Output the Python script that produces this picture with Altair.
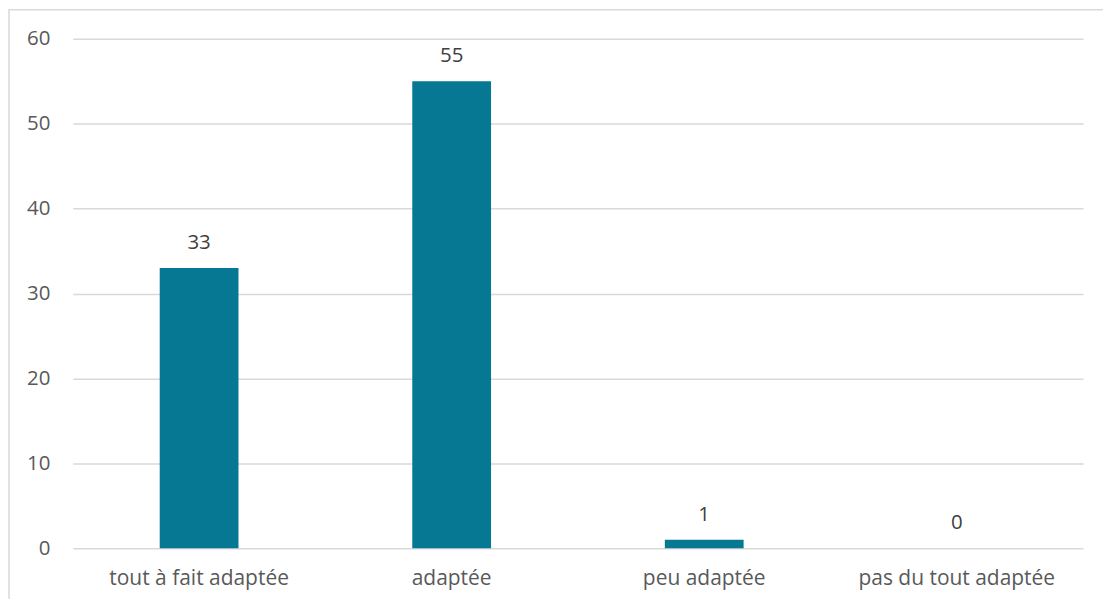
import altair as alt
import pandas as pd

categories = ["tout à fait adaptée", "adaptée", "peu adaptée", "pas du tout adaptée"]
values = [33, 55, 1, 0]
y_ticks = [0, 10, 20, 30, 40, 50, 60]

df = pd.DataFrame({"cat": categories, "val": values})

FONT = "Open Sans"
FS = 20.5

base = alt.Chart(df)

frame = alt.Chart(pd.DataFrame({"k": [0]})).mark_rect(
    fillOpacity=0, stroke="#D9D9D9", strokeWidth=1.5, clip=False
).encode(
    x=alt.value(-64), x2=alt.value(1040), y=alt.value(-29), y2=alt.value(580)
)

xenc = alt.X("cat:N", sort=categories, title=None,
             scale=alt.Scale(paddingInner=0, paddingOuter=0),
             axis=alt.Axis(labelAngle=0, labelFontSize=21, labelColor="#595959",
                           labelFont=FONT, domain=False, ticks=False, labelPadding=19,
                           labelLimit=500))
yenc = alt.Y("val:Q", title=None,
             scale=alt.Scale(domain=[0, 60], nice=False),
             axis=alt.Axis(values=y_ticks, labelFontSize=FS, labelColor="#595959",
                           labelFont=FONT, domain=False, ticks=False, labelPadding=23,
                           gridColor="#D9D9D9", gridWidth=1.5))

bars = base.mark_bar(color="#077894", size=79).encode(x=xenc, y=yenc)
labels = base.mark_text(dy=-25, fontSize=FS, color="#404040", font=FONT).encode(
    x=alt.X("cat:N", sort=categories), y="val:Q", text="val:Q")

chart = alt.layer(frame, bars, labels).properties(
    width=1013, height=511,
    autosize=alt.AutoSizeParams(type="none"),
    padding={"left": 65, "top": 30, "right": 20, "bottom": 50},
).configure_view(stroke=None)

chart.save("out.html", embed_options={"renderer": "svg", "actions": False})
